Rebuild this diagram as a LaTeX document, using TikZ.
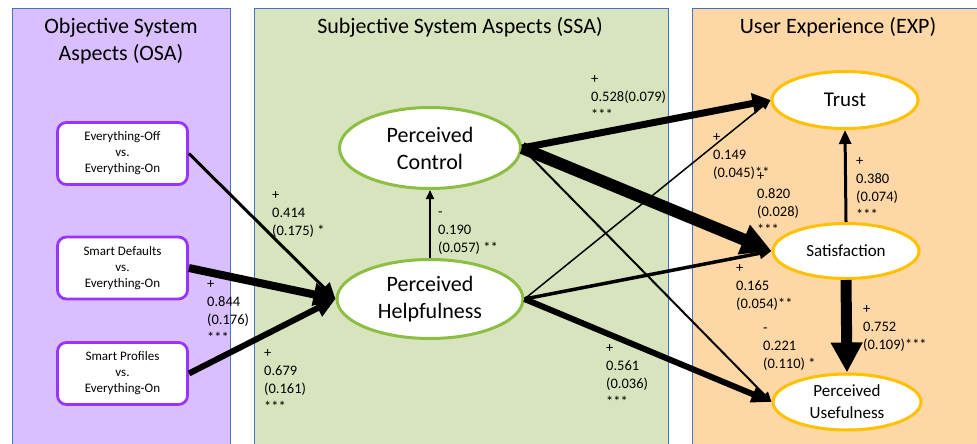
\documentclass[tikz,border=0pt]{standalone}
\usepackage{fontspec}
\setmainfont{Carlito}
\usetikzlibrary{shapes.geometric,arrows.meta}
\definecolor{osafill}{HTML}{D9BFFE}
\definecolor{ssafill}{HTML}{D7E4BD}
\definecolor{expfill}{HTML}{FED7A6}
\definecolor{panelline}{HTML}{4472C4}
\definecolor{osaborder}{HTML}{9933FF}
\definecolor{ssaborder}{HTML}{8DBE44}
\definecolor{expborder}{HTML}{FFC000}
\begin{document}
\begin{tikzpicture}[x=1pt,y=-1pt,
  panel/.style={draw=panelline,line width=0.8pt},
  title/.style={font=\fontsize{22}{27}\selectfont,align=center,inner sep=0},
  osabox/.style={draw=osaborder,line width=2.8pt,fill=white,rounded corners=9pt,
    minimum width=130pt,minimum height=62pt,inner sep=0,align=center,
    font=\fontsize{13}{16}\selectfont},
  ssaell/.style={ellipse,draw=ssaborder,line width=3pt,fill=white,inner sep=0,
    align=center,font=\fontsize{22}{27}\selectfont},
  expell/.style={ellipse,draw=expborder,line width=3pt,fill=white,inner sep=0,align=center},
  coef/.style={anchor=base west,inner sep=0,align=left,font=\fontsize{14.5}{18}\selectfont},
  link/.style={draw=black,line cap=butt}
]
\useasboundingbox (0,0) rectangle (977,444);
\clip (0,0) rectangle (977,444);
% panels
\path[panel,fill=osafill] (12,8) rectangle (230,460);
\path[panel,fill=ssafill] (254,8) rectangle (668,460);
\path[panel,fill=expfill] (692,8) rectangle (990,460);
% titles
\node[title] (tosa) at (121,41) {Objective System\\Aspects (OSA)};
\node[title] (tssa) at (460,27) {Subjective System Aspects (SSA)};
\node[title] (texp) at (838,27) {User Experience (EXP)};
% coefficient labels (anchor = baseline of the last line)
\node[coef] (l414) at (272,235) {+\\0.414\\(0.175) *};
\node[coef] (l844) at (207,342) {+\\0.844\\(0.176)\\***};
\node[coef] (l679) at (264,411) {+\\0.679\\(0.161)\\***};
\node[coef] (l190) at (438,252) {-\\0.190\\(0.057) **};
\node[coef] (l528) at (591,119) {+\\0.528(0.079)\\***};
\node[coef] (l149) at (713,177) {+\\0.149\\(0.045)**};
\node[coef] (l820) at (757,234) {+\\0.820\\(0.028)\\***};
\node[coef] (l165) at (736,308) {+\\0.165\\(0.054)**};
\node[coef] (l221) at (763,368) {-\\0.221\\(0.110) *};
\node[coef] (l561) at (606,406) {+\\0.561\\(0.036)\\***};
\node[coef] (l380) at (856,219) {+\\0.380\\(0.074)\\***};
\node[coef] (l752) at (863,349) {+\\0.752\\(0.109)***};
% OSA boxes
\node[osabox] (eo) at (122.5,153.5) {Everything-Off\\vs.\\Everything-On};
\node[osabox] (sd) at (122.5,268) {Smart Defaults\\vs.\\Everything-On};
\node[osabox] (sp) at (122.5,373.5) {Smart Profiles\\vs.\\Everything-On};
% SSA ellipses
\node[ssaell,minimum width=181pt,minimum height=81pt] (pc) at (430,148) {Perceived\\Control};
\node[ssaell,minimum width=186pt,minimum height=79pt] (ph) at (430,299) {Perceived\\Helpfulness};
% EXP ellipses
\node[expell,minimum width=146pt,minimum height=57pt,font=\fontsize{21}{25}\selectfont] (tr) at (845,100) {Trust};
\node[expell,minimum width=146pt,minimum height=55pt,font=\fontsize{17}{21}\selectfont] (sa) at (846,251) {Satisfaction};
\node[expell,minimum width=148pt,minimum height=56pt,font=\fontsize{17}{22}\selectfont] (pu) at (847,402) {Perceived\\Usefulness};
% arrows
\draw[link,line width=3pt,-{Triangle[length=16pt,width=15pt]}] (eo.east) -- (ph.west);
\draw[link,line width=8pt,-{Triangle[length=22pt,width=22pt]}] (sd.east) -- (ph.west);
\draw[link,line width=6pt,-{Triangle[length=20pt,width=18pt]}] (sp.east) -- (ph.west);
\draw[link,line width=2pt,-{Triangle[length=9pt,width=8pt]}] (ph.north) -- (pc.south);
\draw[link,line width=7pt,-{Triangle[length=18pt,width=20pt]}] (pc.east) -- (tr.west);
\draw[link,line width=12pt,-{Triangle[length=30pt,width=30pt]}] (pc.east) -- (sa.west);
\draw[link,line width=2pt,-{Triangle[length=10pt,width=9pt]}] (pc.east) -- (pu.west);
\draw[link,line width=1.5pt,-{Triangle[length=10pt,width=8pt]}] (ph.east) -- (tr.west);
\draw[link,line width=3.5pt,-{Triangle[length=12pt,width=11pt]}] (ph.east) -- (sa.west);
\draw[link,line width=6pt,-{Triangle[length=20pt,width=16pt]}] (ph.east) -- (pu.west);
\draw[link,line width=3pt,-{Triangle[length=14pt,width=12pt]}] (sa.north) -- (tr.south);
\draw[link,line width=11pt,-{Triangle[length=30pt,width=30pt]}] (sa.south) -- (pu.north);
\end{tikzpicture}
\end{document}
